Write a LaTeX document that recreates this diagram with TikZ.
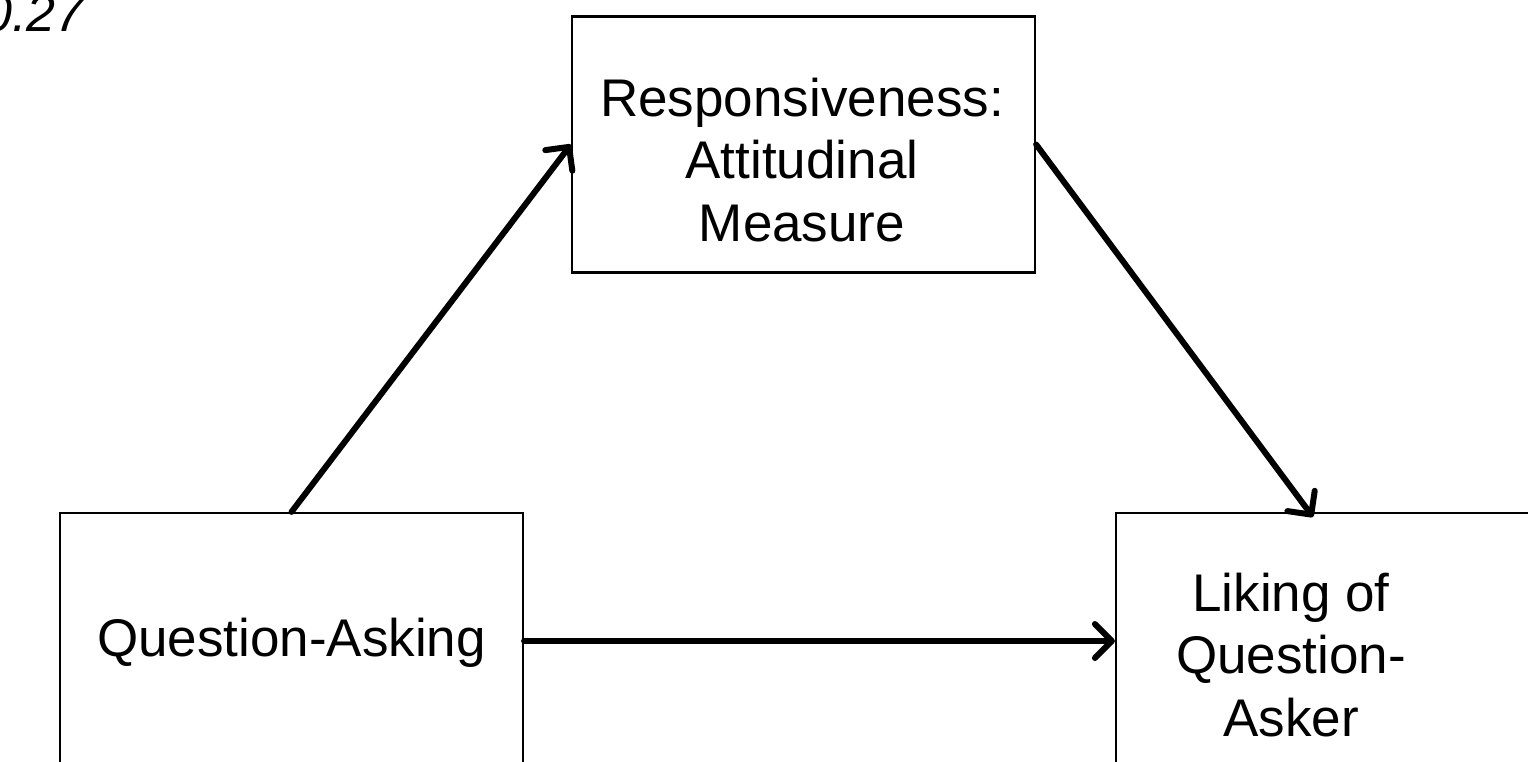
\documentclass[tikz,border=0pt]{standalone}
\usepackage{fontspec}
\setmainfont{Liberation Sans}
\usetikzlibrary{arrows.meta}
\begin{document}
\begin{tikzpicture}[x=1pt,y=-1pt,
  box/.style={draw=black, line width=2.2pt, minimum width=463pt, minimum height=256pt, inner sep=0pt, fill=white},
  lbl/.style={align=center, font=\fontsize{53}{62.5}\selectfont, inner sep=0pt},
  conn/.style={line width=6pt, -{Straight Barb[length=17pt,width=34pt,round]}, line cap=round}]
\useasboundingbox (0,0) rectangle (1528,761);
\node[box] (qa) at (291.5,641) {};
\node[box] (resp) at (803.5,144.5) {};
\node[box] (lk) at (1347.5,641) {};
\node[lbl] (qat) at (291.5,643) {Question-Asking};
\node[lbl] (respt) at (802,160) {Responsiveness:\\Attitudinal\\Measure};
\node[lbl] (lkt) at (1291,655) {Liking of\\Question-\\Asker};
\node[anchor=base west, inner sep=0pt, font=\fontsize{52}{60}\selectfont\itshape] (coef) at (-17,31) {0.27};
\coordinate (tip2) at (1313,517);
\draw[conn] (qa.north) -- (resp.west);
\draw[conn] (resp.east) -- (tip2);
\draw[conn] (qa.east) -- (lk.west);
\end{tikzpicture}
\end{document}
